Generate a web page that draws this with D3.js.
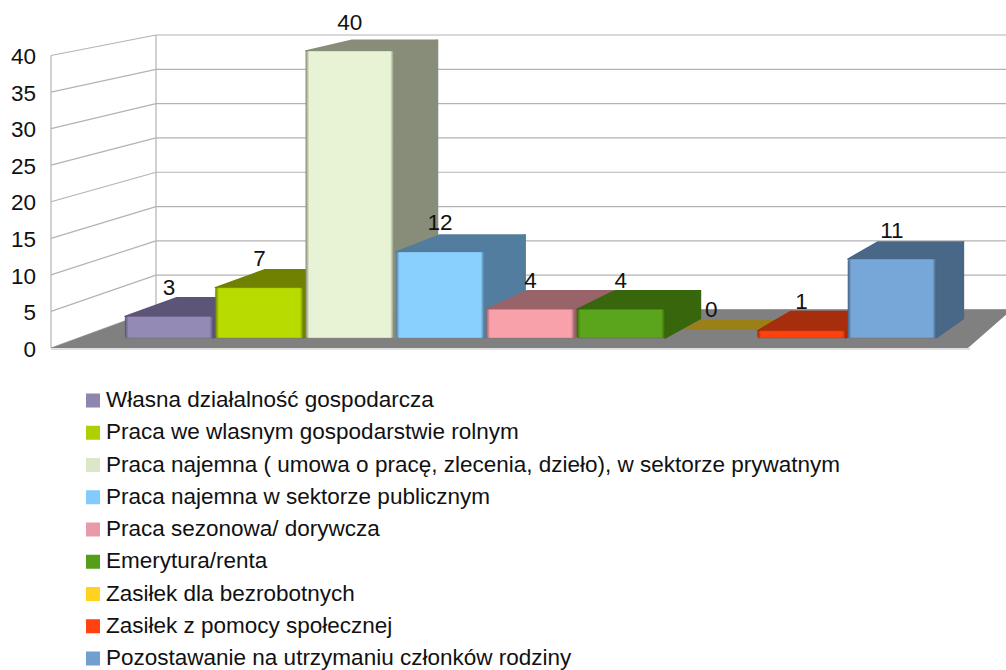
<!DOCTYPE html>
<html>
<head>
<meta charset="utf-8">
<script src="https://cdn.jsdelivr.net/npm/d3@7"></script>
<style>
body { margin: 0; background: #fff; }
text { font-family: "Liberation Sans", sans-serif; fill: #111; }
</style>
</head>
<body>
<div id="chart"></div>
<script>
var w = 1006;
var h = 670;
var fontSize = 22.5;

// data
var categories = [
    "Własna działalność gospodarcza",
    "Praca we wlasnym gospodarstwie rolnym",
    "Praca najemna ( umowa o pracę, zlecenia, dzieło), w sektorze prywatnym",
    "Praca najemna w sektorze publicznym",
    "Praca sezonowa/ dorywcza",
    "Emerytura/renta",
    "Zasiłek dla bezrobotnych",
    "Zasiłek z pomocy społecznej",
    "Pozostawanie na utrzymaniu członków rodziny"
];
var values = [3, 7, 40, 12, 4, 4, 0, 1, 11];
var ticks = [0, 5, 10, 15, 20, 25, 30, 35, 40];

var frontColors = ["#948ab6", "#b9dc00", "#e8f3d6", "#89d0ff", "#f9a1ab", "#5aa51b", "#ffd320", "#ff420e", "#76a7d8"];
var darkColors = ["#5d5478", "#6f8000", "#878d78", "#527d9e", "#99636a", "#38660f", "#9a8012", "#a62d08", "#486788"];
var legendColors = ["#8e86ae", "#aecf00", "#dce6c9", "#83caff", "#e99aa8", "#579d1c", "#ffd320", "#ff420e", "#729fcf"];

var svg = d3.select("#chart")
    .append("svg")
    .attr("width", w)
    .attr("height", h)
    .style("display", "block");

// scales: wall front edge, wall back edge, front of the bars
var yWallFront = d3.scaleLinear().domain([0, 40]).range([348, 55.5]);
var yWallBack = d3.scaleLinear().domain([0, 40]).range([309.5, 35]);
var yBar = d3.scaleLinear().domain([0, 40]).range([338, 51]);
var xBar = d3.scaleBand().domain(d3.range(categories.length)).range([125, 936]).paddingInner(0.025);

var wallLeft = 51;
var wallBack = 156;

// perspective of the bars, depth goes towards a vanishing point
var vanishX = 1850;
var vanishY = -310;
var depth = 0.03;
var project = function (x, y, t) {
    var k = depth * (t === undefined ? 1 : t);
    return [x + (vanishX - x) * k, y + (vanishY - y) * k];
};
var poly = function (pts) {
    return pts.map(function (p) { return p.join(","); }).join(" ");
};

// gradients for the soft bevel on the bars
var defs = svg.append("defs");
categories.forEach(function (c, i) {
    var g = defs.append("linearGradient").attr("id", "front" + i);
    g.append("stop").attr("offset", "0%").attr("stop-color", darkColors[i]);
    g.append("stop").attr("offset", "4%").attr("stop-color", frontColors[i]);
    g.append("stop").attr("offset", "96%").attr("stop-color", frontColors[i]);
    g.append("stop").attr("offset", "100%").attr("stop-color", darkColors[i]);
});
defs.append("filter")
    .attr("id", "soft")
    .append("feGaussianBlur")
    .attr("stdDeviation", 0.6);

// side wall and back wall lines
var grid = svg.append("g")
    .attr("stroke", "#b3b3b3")
    .attr("stroke-width", 1.2)
    .attr("fill", "none");
grid.selectAll(".side")
    .data(ticks)
    .enter()
    .append("line")
    .attr("x1", wallLeft)
    .attr("x2", wallBack)
    .attr("y1", function (d) { return yWallFront(d); })
    .attr("y2", function (d) { return yWallBack(d); });
grid.selectAll(".back")
    .data(ticks)
    .enter()
    .append("line")
    .attr("x1", wallBack)
    .attr("x2", w)
    .attr("y1", function (d) { return yWallBack(d); })
    .attr("y2", function (d) { return yWallBack(d); });
grid.append("line")
    .attr("x1", wallLeft).attr("x2", wallLeft)
    .attr("y1", yWallFront(0)).attr("y2", yWallFront(40));
grid.append("line")
    .attr("x1", wallBack).attr("x2", wallBack)
    .attr("y1", yWallBack(0)).attr("y2", yWallBack(40));

// floor
svg.append("line")
    .attr("x1", wallLeft).attr("x2", 970)
    .attr("y1", yWallFront(0) + 1).attr("y2", yWallFront(0) + 1)
    .attr("stroke", "#c4c4c4");
svg.append("polygon")
    .attr("points", poly([[wallLeft, yWallFront(0)], [968, yWallFront(0)], [1012, yWallBack(0)], [wallBack, yWallBack(0)]]))
    .attr("fill", "#808080");

// bars, left to right so the next bar covers the previous side
var bars = svg.selectAll(".bar")
    .data(values)
    .enter()
    .append("g")
    .attr("class", "bar")
    .attr("filter", "url(#soft)");

bars.each(function (d, i) {
    var g = d3.select(this);
    var x0 = xBar(i);
    var x1 = x0 + xBar.bandwidth();
    var top = yBar(d);
    var base = yBar(0);

    if (d === 0) {
        // empty bar only shows as a strip on the floor
        g.append("polygon")
            .attr("points", poly([project(x0, base, 0.43), project(x1, base, 0.43), project(x1, base, 0.93), project(x0, base, 0.93)]))
            .attr("fill", darkColors[i]);
        return;
    }

    g.append("polygon")
        .attr("points", poly([[x1, base], project(x1, base), project(x1, top), [x1, top]]))
        .attr("fill", darkColors[i])
        .attr("stroke", darkColors[i])
        .attr("stroke-linejoin", "round")
        .attr("stroke-width", 1.5);
    g.append("polygon")
        .attr("points", poly([[x0, top], [x1, top], project(x1, top), project(x0, top)]))
        .attr("fill", darkColors[i])
        .attr("stroke", darkColors[i])
        .attr("stroke-linejoin", "round")
        .attr("stroke-width", 1.5);
    g.append("rect")
        .attr("x", x0)
        .attr("y", top)
        .attr("width", x1 - x0)
        .attr("height", base - top)
        .attr("rx", 2)
        .attr("fill", "url(#front" + i + ")")
        .attr("stroke", darkColors[i])
        .attr("stroke-opacity", 0.35);
});

// value labels sit at a fixed gap above the front of the bar
svg.selectAll(".value")
    .data(values)
    .enter()
    .append("text")
    .attr("class", "value")
    .attr("x", function (d, i) { return xBar(i) + xBar.bandwidth() / 2; })
    .attr("y", function (d) { return yBar(d) - 21.5; })
    .attr("text-anchor", "middle")
    .attr("font-size", fontSize)
    .text(function (d) { return d; });

// y axis labels
var yAxis = d3.axisLeft(yWallFront)
    .tickValues(ticks)
    .tickSize(0)
    .tickPadding(15);
var axisG = svg.append("g")
    .attr("transform", "translate(" + wallLeft + ",1)")
    .call(yAxis);
axisG.select(".domain").remove();
axisG.selectAll("text")
    .attr("font-size", fontSize)
    .attr("font-family", "Liberation Sans")
    .attr("fill", "#111");

// legend
var legendY = d3.scalePoint().domain(d3.range(categories.length)).range([400.5, 658.5]);
var legend = svg.selectAll(".legend")
    .data(categories)
    .enter()
    .append("g")
    .attr("class", "legend")
    .attr("transform", function (d, i) { return "translate(86," + legendY(i) + ")"; });
legend.append("rect")
    .attr("y", -7)
    .attr("width", 14)
    .attr("height", 14)
    .attr("fill", function (d, i) { return legendColors[i]; });
legend.append("text")
    .attr("x", 20)
    .attr("y", 6.5)
    .attr("font-size", fontSize)
    .text(function (d) { return d; });
</script>
</body>
</html>
